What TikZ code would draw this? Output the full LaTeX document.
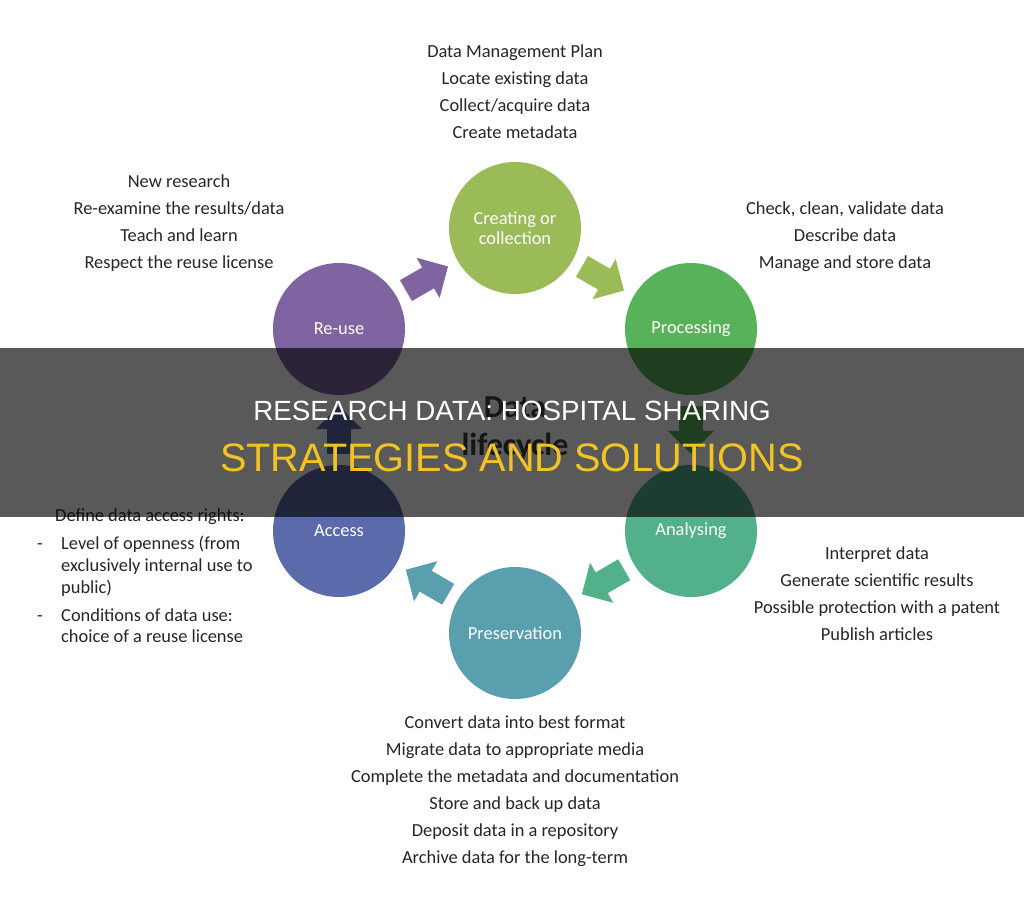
\documentclass[tikz,border=0pt]{standalone}
\usepackage{fontspec}
\setmainfont{Carlito}
\newfontfamily\titlefont{Liberation Sans}
\usetikzlibrary{arrows.meta}

\definecolor{createC}{RGB}{155,187,89}
\definecolor{processC}{RGB}{88,178,90}
\definecolor{analyseC}{RGB}{82,176,138}
\definecolor{preserveC}{RGB}{90,159,174}
\definecolor{accessC}{RGB}{91,106,171}
\definecolor{reuseC}{RGB}{128,100,162}
\definecolor{titleY}{RGB}{241,196,36}

\begin{document}
\begin{tikzpicture}[x=1pt, y=-1pt,
  stage/.style={circle, minimum size=132pt, inner sep=0pt, text=white, align=center,
    font=\fontsize{18.4}{20}\selectfont},
  flow/.style={line width=24pt, -{Triangle[width=45pt, length=23pt]},
    shorten <=11pt, shorten >=11pt},
  info/.style={align=center, text=black!85, font=\fontsize{18.4}{27}\selectfont},
  infoline/.style={anchor=west, inner sep=0pt, text height=13pt, text depth=4pt,
    text=black!85, font=\fontsize{18.4}{22}\selectfont}]
  \fill[white] (0, 0) rectangle (1024, 909);
  \useasboundingbox (0, 0) rectangle (1024, 909);

  % stages of the cycle
  \node[stage, fill=createC] (create) at (515, 228) {Creating or\\collection};
  \node[stage, fill=processC] (process) at (691, 329) {Processing};
  \node[stage, fill=analyseC] (analyse) at (691, 531) {Analysing};
  \node[stage, fill=preserveC] (preserve) at (515, 633) {Preservation};
  \node[stage, fill=accessC] (access) at (339, 531) {Access};
  \node[stage, fill=reuseC] (reuse) at (339, 329) {Re-use};

  \draw[flow, draw=reuseC] (reuse) -- (create);
  \draw[flow, draw=createC] (create) -- (process);
  \draw[flow, draw=processC] (process) -- (analyse);
  \draw[flow, draw=analyseC] (analyse) -- (preserve);
  \draw[flow, draw=preserveC] (preserve) -- (access);
  \draw[flow, draw=accessC] (access) -- (reuse);

  \node[align=center, text=black!75, font=\bfseries\fontsize{32}{38}\selectfont] (cycle)
    at (515, 429) {Data\\lifecycle};

  % tasks of each stage
  \node[info] (createTxt) at (515, 92) {Data Management Plan\\Locate existing data\\
    Collect/acquire data\\Create metadata};
  \node[info] (processTxt) at (845, 237) {Check, clean, validate data\\Describe data\\
    Manage and store data};
  \node[info] (analyseTxt) at (877, 594) {Interpret data\\Generate scientific results\\
    Possible protection with a patent\\Publish articles};
  \node[info] (preserveTxt) at (515, 791) {Convert data into best format\\
    Migrate data to appropriate media\\Complete the metadata and documentation\\
    Store and back up data\\Deposit data in a repository\\Archive data for the long-term};
  \node[info] (reuseTxt) at (179, 223) {New research\\Re-examine the results/data\\
    Teach and learn\\Respect the reuse license};

  \node[infoline] (accessHead) at (55, 517) {Define data access rights:};
  \node[infoline] (dashA) at (37, 545) {-};
  \node[infoline] (levelA) at (61, 545) {Level of openness (from};
  \node[infoline] (levelB) at (61, 567) {exclusively internal use to};
  \node[infoline] (levelC) at (61, 589) {public)};
  \node[infoline] (dashB) at (37, 617) {-};
  \node[infoline] (condA) at (61, 617) {Conditions of data use:};
  \node[infoline] (condB) at (61, 638) {choice of a reuse license};

  % title band
  \fill[black, opacity=0.65] (0, 348) rectangle (1024, 517);
  \node[text=white, font=\titlefont\fontsize{27.8}{30}\selectfont] (titleA)
    at (512, 411) {RESEARCH DATA: HOSPITAL SHARING};
  \node[text=titleY, font=\titlefont\fontsize{39.7}{42}\selectfont] (titleB)
    at (512, 458) {STRATEGIES AND SOLUTIONS};
\end{tikzpicture}
\end{document}
